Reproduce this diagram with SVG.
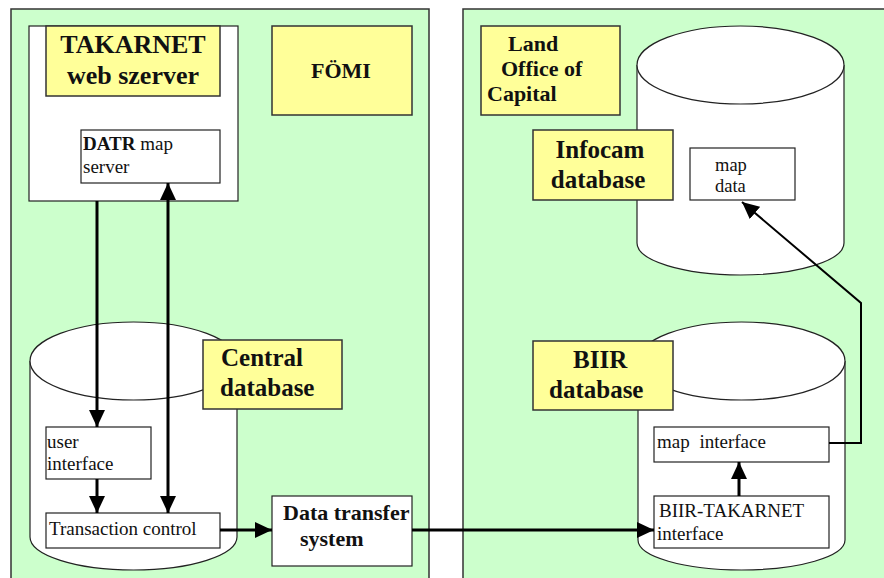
<svg xmlns="http://www.w3.org/2000/svg" width="884" height="578" viewBox="0 0 884 578">
<style>
.panel{fill:#ccffcc;stroke:#333;stroke-width:1.5}
.box{fill:#fff;stroke:#222;stroke-width:1.2}
.ybox{fill:#ffff99;stroke:#333;stroke-width:1.5}
.cyl{fill:#fff;stroke:#222;stroke-width:1.2}
.t{font-family:"Liberation Serif","Times New Roman",serif;fill:#111}
.b{font-weight:bold}
.big{font-size:25px}
.sm{font-size:19px}
.arr{fill:none;stroke:#000;stroke-width:3}
.arr2{fill:none;stroke:#000;stroke-width:2}
</style>
<defs>
<marker id="ah" markerUnits="userSpaceOnUse" markerWidth="17" markerHeight="16" refX="17" refY="8" orient="auto-start-reverse" viewBox="0 0 17 16">
<path d="M0,0 L17,8 L0,16 z" fill="#000"/>
</marker>
</defs>
<rect width="884" height="578" fill="#fff"/>
<g id="panel-fomi"><rect class="panel" x="11" y="9" width="418" height="600"/></g>
<g id="panel-land"><rect class="panel" x="463" y="9" width="500" height="600"/></g>

<g id="web-server">
<rect class="box" x="29" y="26" width="209" height="175"/>
<rect class="ybox" x="46" y="26" width="174" height="70"/>
<text class="t b" x="133" y="53" font-size="26" text-anchor="middle">TAKARNET</text>
<text class="t b" x="133" y="84" font-size="26" text-anchor="middle">web szerver</text>
</g>
<g id="datr">
<rect class="box" x="81" y="130" width="139" height="53"/>
<text class="t sm" x="83" y="150"><tspan class="b">DATR</tspan> map</text>
<text class="t sm" x="83" y="173">server</text>
</g>
<g id="fomi">
<rect class="ybox" x="272" y="26" width="140" height="89"/>
<text class="t b" x="341" y="78" font-size="22" text-anchor="middle">FÖMI</text>
</g>
<g id="land-office">
<rect class="ybox" x="481" y="26" width="139" height="89"/>
<text class="t b" x="508" y="51" font-size="22">Land</text>
<text class="t b" x="501" y="76" font-size="22">Office of</text>
<text class="t b" x="487" y="101" font-size="22">Capital</text>
</g>

<g id="infocam-db">
<path class="cyl" d="M637,65 L637,243 A103.5,32 0 0 0 844,243 L844,65"/>
<ellipse class="cyl" cx="740.5" cy="65" rx="103.5" ry="39"/>
<rect class="ybox" x="533" y="130" width="140" height="70"/>
<text class="t b big" x="600" y="158" text-anchor="middle">Infocam</text>
<text class="t b big" x="598" y="188" text-anchor="middle">database</text>
</g>
<g id="map-data">
<rect class="box" x="690" y="148" width="105" height="52"/>
<text class="t" x="715" y="171" font-size="18.5">map</text>
<text class="t" x="715" y="192" font-size="18.5">data</text>
</g>

<g id="central-db">
<path class="cyl" d="M30,361 L30,537 A103.5,33 0 0 0 237,537 L237,361"/>
<ellipse class="cyl" cx="133.5" cy="361" rx="103.5" ry="39"/>
<rect class="ybox" x="203" y="340" width="139" height="69"/>
<text class="t b big" x="221" y="366">Central</text>
<text class="t b big" x="220" y="396">database</text>
</g>
<g id="user-interface">
<rect class="box" x="46" y="427" width="105" height="52"/>
<text class="t sm" x="47" y="448">user</text>
<text class="t sm" x="47" y="470">interface</text>
</g>
<g id="transaction-control">
<rect class="box" x="46" y="513" width="174" height="35"/>
<text class="t sm" x="49" y="535">Transaction control</text>
</g>
<g id="data-transfer">
<rect class="box" x="272" y="496" width="140" height="70"/>
<text class="t b" x="283" y="520" font-size="22">Data transfer</text>
<text class="t b" x="300" y="546" font-size="22">system</text>
</g>

<g id="biir-db">
<path class="cyl" d="M638,361 L638,540 A103.5,30 0 0 0 845,540 L845,361"/>
<ellipse class="cyl" cx="741.5" cy="361" rx="103.5" ry="39"/>
<rect class="ybox" x="533" y="341" width="140" height="69"/>
<text class="t b big" x="573" y="368">BIIR</text>
<text class="t b big" x="549" y="398">database</text>
</g>
<g id="map-interface">
<rect class="box" x="654" y="427" width="175" height="35"/>
<text class="t sm" x="657" y="448" word-spacing="5">map interface</text>
</g>
<g id="biir-takarnet">
<rect class="box" x="654" y="496" width="175" height="52"/>
<text class="t sm" x="659" y="517">BIIR-TAKARNET</text>
<text class="t sm" x="657" y="540">interface</text>
</g>

<g id="connectors">
<line class="arr" x1="97" y1="201" x2="97" y2="427" marker-end="url(#ah)"/>
<line class="arr" x1="168" y1="183" x2="168" y2="513" marker-start="url(#ah)" marker-end="url(#ah)"/>
<line class="arr" x1="97" y1="479" x2="97" y2="513" marker-end="url(#ah)"/>
<line class="arr" x1="220" y1="530" x2="272" y2="530" marker-end="url(#ah)"/>
<line class="arr" x1="412" y1="530" x2="654" y2="530" marker-end="url(#ah)"/>
<line class="arr" x1="739" y1="496" x2="739" y2="462" marker-end="url(#ah)"/>
<path class="arr2" d="M829,443 H861 V303 L742,202" marker-end="url(#ah)"/>
</g>
</svg>
